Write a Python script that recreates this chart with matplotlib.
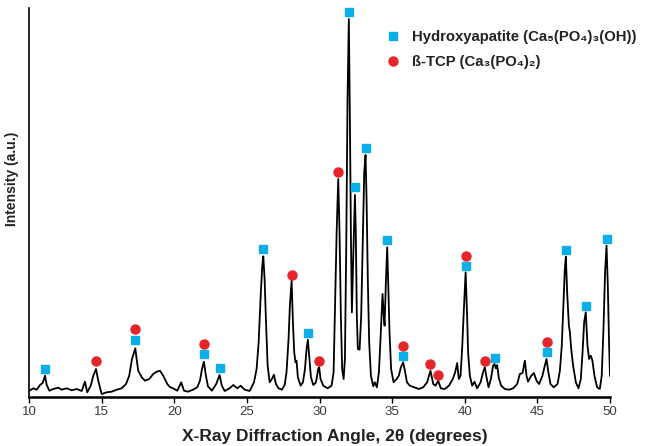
import matplotlib
matplotlib.use("Agg")
import matplotlib.pyplot as plt
from matplotlib.lines import Line2D

plt.rcParams['font.family'] = ['Liberation Sans', 'DejaVu Sans']

# ---- data: XRD trace (2theta in degrees, intensity in a.u.) ----
two_theta = [
    10.02, 10.30, 10.53, 10.76, 10.94, 11.10, 11.22, 11.40, 11.67, 12.02, 12.25, 12.59, 12.94, 13.28,
    13.63, 13.85, 14.01, 14.25, 14.43, 14.61, 14.77, 15.00, 15.35, 15.69, 16.04, 16.38, 16.68, 16.90,
    17.09, 17.23, 17.32, 17.41, 17.52, 17.76, 17.98, 18.28, 18.55, 18.79, 19.02, 19.24, 19.52, 19.70,
    19.91, 20.21, 20.48, 20.67, 20.94, 21.29, 21.58, 21.77, 21.91, 22.04, 22.18, 22.32, 22.59, 22.89,
    23.12, 23.28, 23.47, 23.81, 24.06, 24.34, 24.57, 24.85, 25.19, 25.49, 25.67, 25.81, 25.95, 26.06,
    26.13, 26.22, 26.31, 26.43, 26.57, 26.72, 26.86, 27.00, 27.18, 27.41, 27.60, 27.73, 27.87, 27.96,
    28.08, 28.17, 28.26, 28.35, 28.42, 28.51, 28.70, 28.86, 29.00, 29.11, 29.20, 29.29, 29.41, 29.57,
    29.73, 29.80, 29.91, 29.98, 30.07, 30.26, 30.56, 30.83, 30.97, 31.08, 31.18, 31.29, 31.38, 31.47,
    31.56, 31.66, 31.75, 31.84, 31.93, 32.02, 32.09, 32.16, 32.23, 32.32, 32.44, 32.50, 32.57, 32.64,
    32.76, 32.87, 32.99, 33.08, 33.17, 33.24, 33.33, 33.42, 33.54, 33.70, 33.81, 33.95, 34.09, 34.20,
    34.34, 34.41, 34.48, 34.57, 34.66, 34.73, 34.82, 34.93, 35.10, 35.31, 35.46, 35.60, 35.76, 35.88,
    36.02, 36.22, 36.52, 36.84, 37.14, 37.41, 37.64, 37.83, 37.99, 38.17, 38.35, 38.63, 38.91, 39.18,
    39.34, 39.48, 39.59, 39.71, 39.82, 39.92, 40.06, 40.17, 40.23, 40.35, 40.51, 40.67, 40.85, 41.09,
    41.27, 41.38, 41.50, 41.64, 41.80, 41.95, 42.05, 42.14, 42.23, 42.35, 42.51, 42.76, 43.06, 43.33,
    43.61, 43.79, 43.98, 44.14, 44.25, 44.36, 44.55, 44.76, 44.94, 45.12, 45.35, 45.51, 45.63, 45.74,
    45.90, 46.13, 46.39, 46.55, 46.68, 46.80, 46.89, 46.96, 47.05, 47.17, 47.24, 47.33, 47.46, 47.65,
    47.83, 47.99, 48.11, 48.22, 48.33, 48.45, 48.56, 48.68, 48.79, 48.93, 49.11, 49.30, 49.43, 49.55,
    49.66, 49.76, 49.85, 49.94, 50.00,
]
intensity = [
    6.3, 8.7, 7.3, 12.0, 14.0, 21.3, 12.0, 6.3, 8.0, 9.3, 7.3, 8.7, 6.7, 8.0,
    6.0, 15.3, 4.7, 11.3, 21.3, 28.0, 16.3, 3.0, 4.7, 5.3, 7.3, 8.7, 13.0, 21.3,
    38.0, 44.7, 48.7, 38.0, 26.3, 19.7, 16.3, 18.0, 23.0, 25.3, 26.3, 21.3, 13.0, 10.0,
    8.7, 6.3, 14.7, 6.3, 5.3, 7.3, 9.7, 16.3, 28.0, 35.3, 21.3, 10.7, 6.3, 13.0,
    22.0, 11.3, 6.0, 8.7, 12.0, 8.7, 11.3, 7.3, 6.0, 14.7, 28.0, 54.7, 101.3, 131.3,
    140.7, 118.0, 78.0, 31.3, 14.7, 18.0, 22.3, 13.0, 8.7, 7.3, 12.0, 24.7, 58.0, 91.3,
    116.3, 74.7, 44.7, 34.7, 36.3, 19.7, 11.3, 14.7, 28.0, 48.0, 57.3, 41.3, 19.7, 12.0,
    14.0, 18.0, 28.0, 29.7, 18.0, 11.3, 8.7, 11.3, 24.7, 98.0, 164.7, 218.0, 164.7, 81.3,
    28.0, 18.0, 38.0, 148.0, 298.0, 378.0, 281.3, 164.7, 84.7, 138.0, 202.0, 164.7, 81.3, 48.0,
    47.3, 81.3, 164.7, 224.7, 242.0, 198.0, 114.7, 54.7, 21.3, 10.7, 14.7, 9.7, 24.7, 58.0,
    103.0, 84.7, 71.3, 114.7, 149.7, 114.7, 64.7, 28.0, 14.7, 18.0, 21.3, 29.7, 34.7, 26.3,
    14.7, 11.3, 9.7, 8.0, 9.7, 14.7, 26.3, 13.0, 11.3, 16.3, 8.7, 8.0, 11.3, 18.0,
    24.7, 34.0, 18.0, 21.3, 48.0, 81.3, 124.7, 78.0, 44.7, 21.3, 11.3, 15.3, 8.7, 14.7,
    25.3, 29.7, 19.7, 9.7, 18.0, 31.3, 33.0, 28.7, 32.0, 18.7, 11.3, 8.0, 7.3, 8.7,
    13.0, 23.0, 24.0, 36.3, 21.3, 15.3, 20.7, 24.0, 16.3, 13.0, 21.3, 31.3, 38.0, 26.3,
    13.0, 9.7, 13.0, 26.3, 51.3, 94.7, 128.0, 140.3, 104.7, 71.3, 64.7, 48.0, 31.3, 14.7,
    8.7, 18.0, 44.7, 74.7, 84.7, 51.3, 38.0, 41.3, 36.3, 21.3, 9.7, 8.0, 21.3, 68.0,
    124.7, 151.3, 111.3, 51.3, 21.3,
]

# ---- phase markers ----
ha_label = "Hydroxyapatite (Ca\u2085(PO\u2084)\u2083(OH))"
ha_x = [11.1, 17.3, 22.04, 23.12, 26.13, 29.2, 32.0, 32.44, 33.17, 34.66, 35.76, 40.06, 42.05,
        45.63, 46.96, 48.33, 49.76]
ha_y = [28, 57, 43, 29, 148, 64, 385, 210, 249, 157, 41, 131, 39, 45, 147, 91, 158]

tcp_label = "\u00df-TCP (Ca\u2083(PO\u2084)\u2082)"
tcp_x = [14.61, 17.3, 22.04, 28.08, 29.96, 31.29, 35.76, 37.64, 38.17, 40.06, 41.38, 45.63]
tcp_y = [36, 68, 53, 122, 36, 225, 51, 33, 22, 141, 36, 55]

x_ticks = [10, 15, 20, 25, 30, 35, 40, 45, 50]
x_label = "X-Ray Diffraction Angle, 2\u03b8 (degrees)"
y_label = "Intensity (a.u.)"

HA_COLOR = "#0AAEE8"
TCP_COLOR = "#E5252A"

fig = plt.figure(figsize=(6.49, 4.46), dpi=100)
ax = fig.add_axes([29/649, 49/446, 581/649, 389/446])

ax.plot(two_theta, intensity, color="black", lw=1.3, solid_joinstyle="round")
ax.plot(ha_x, ha_y, linestyle="none", marker="s", ms=6.3, color=HA_COLOR, clip_on=False)
ax.plot(tcp_x, tcp_y, linestyle="none", marker="o", ms=6.5, color=TCP_COLOR, clip_on=False)

ax.set_xlim(10, 50)
ax.set_ylim(0, 389)
ax.set_xticks(x_ticks)
ax.set_xticklabels([str(t) for t in x_ticks], fontsize=9.5, color="#3a3a3a")
ax.set_yticks([])
ax.tick_params(axis="x", direction="out", length=4.3, width=1, pad=2.5)

for s in ("top", "right"):
    ax.spines[s].set_visible(False)
ax.spines["left"].set_linewidth(1.2)
ax.spines["bottom"].set_linewidth(1.8)

ax.set_xlabel(x_label, fontsize=12.5, fontweight="bold", color="#222222")
ax.xaxis.set_label_coords(0.527, -0.083)
ax.set_ylabel(y_label, fontsize=10, fontweight="bold", color="#222222")
ax.yaxis.set_label_coords(-0.017, 0.56)

handles = [
    Line2D([], [], linestyle="none", marker="s", ms=6.3, color=HA_COLOR),
    Line2D([], [], linestyle="none", marker="o", ms=6.5, color=TCP_COLOR),
]
ax.legend(handles, [ha_label, tcp_label], loc="upper left",
          bbox_to_anchor=(375/649, 1 - 20/446), bbox_transform=fig.transFigure,
          frameon=False, handlelength=1.0, handletextpad=0.75, labelspacing=0.72,
          prop={"weight": "bold", "size": 10.75}, borderpad=0.2, labelcolor="#222222")

fig.savefig("out.png", dpi=100)
